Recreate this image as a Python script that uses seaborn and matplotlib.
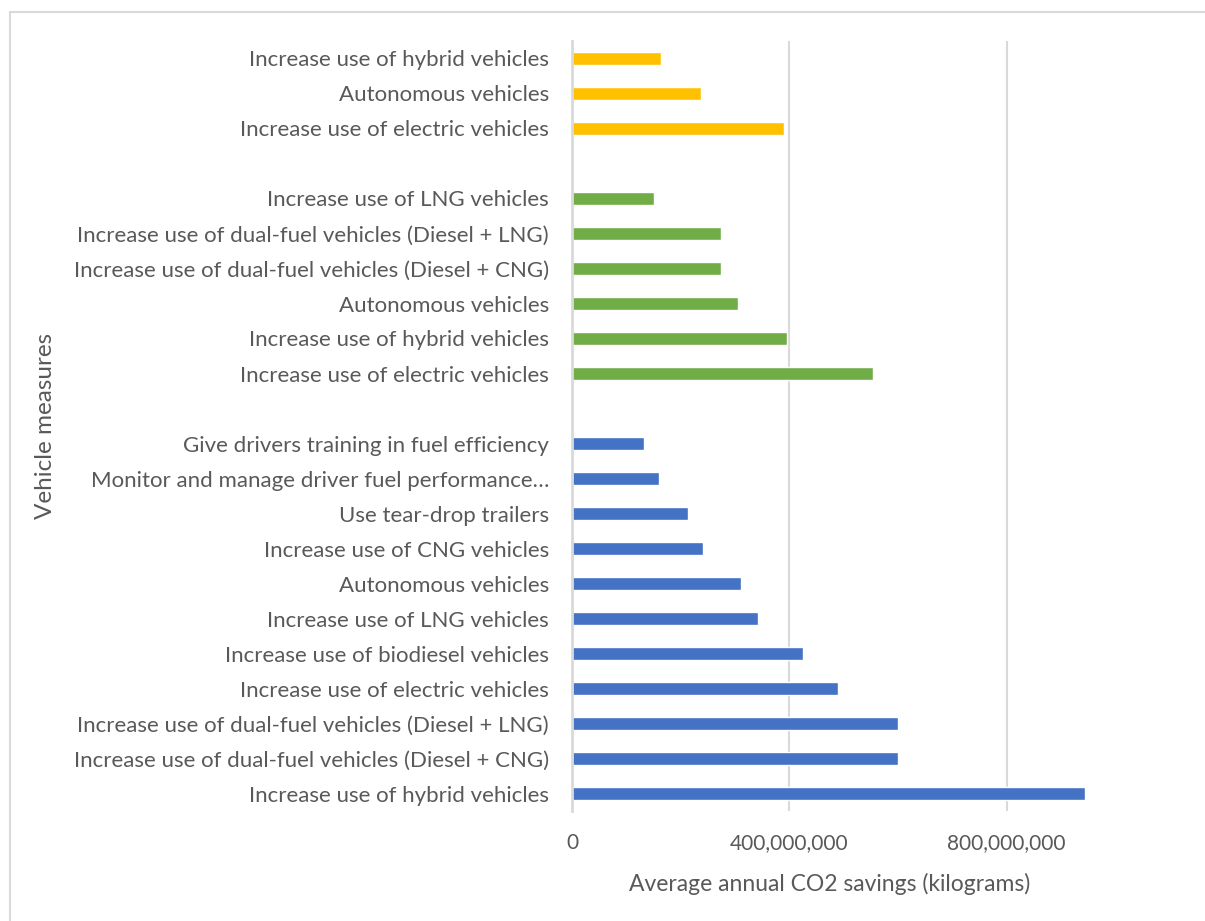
import pandas as pd
import matplotlib.pyplot as plt
import seaborn as sns
from matplotlib.patches import Rectangle
from matplotlib.ticker import FuncFormatter

# Dati (in kg), dall'alto verso il basso
yellow_labels = ["Increase use of hybrid vehicles",
                 "Autonomous vehicles",
                 "Increase use of electric vehicles"]
yellow_values = [164e6, 237e6, 390e6]

green_labels = ["Increase use of LNG vehicles",
                "Increase use of dual-fuel vehicles (Diesel + LNG)",
                "Increase use of dual-fuel vehicles (Diesel + CNG)",
                "Autonomous vehicles",
                "Increase use of hybrid vehicles",
                "Increase use of electric vehicles"]
green_values = [151e6, 275e6, 275e6, 305e6, 396e6, 554e6]

blue_labels = ["Give drivers training in fuel efficiency",
               "Monitor and manage driver fuel performance\u2026",
               "Use tear-drop trailers",
               "Increase use of CNG vehicles",
               "Autonomous vehicles",
               "Increase use of LNG vehicles",
               "Increase use of biodiesel vehicles",
               "Increase use of electric vehicles",
               "Increase use of dual-fuel vehicles (Diesel + LNG)",
               "Increase use of dual-fuel vehicles (Diesel + CNG)",
               "Increase use of hybrid vehicles"]
blue_values = [132e6, 161e6, 214e6, 241e6, 311e6, 343e6, 425e6, 489e6, 600e6, 600e6, 945e6]

colors = {"yellow": "#FFC000", "green": "#70AD47", "blue": "#4472C4"}

# Costruire la tabella con chiavi uniche per ogni riga
rows = []
order = []
tick_text = []
for grp, labels, values in [("yellow", yellow_labels, yellow_values),
                            ("green", green_labels, green_values),
                            ("blue", blue_labels, blue_values)]:
    for i, (lab, val) in enumerate(zip(labels, values)):
        key = f"{grp}_{i}"
        rows.append({"key": key, "value": val, "group": grp})
        order.append(key)
        tick_text.append(lab)
    if grp != "blue":
        order.append(f"gap_{grp}")
        tick_text.append("")
df = pd.DataFrame(rows)

sns.set_style("white")
plt.rcParams['font.family'] = ['Lato', 'DejaVu Sans']
text_col = "#595959"

fig = plt.figure(figsize=(12.05, 9.21), dpi=100)
ax = fig.add_axes([572 / 1205, 1 - 811 / 921, (1087 - 572) / 1205, (811 - 41) / 921])

sns.barplot(data=df, y="key", x="value", hue="group", order=order,
            palette=colors, dodge=False, width=0.36, orient="h",
            legend=False, saturation=1, ax=ax)

ax.set_xlim(0, 948e6)
ax.set_xticks([0, 400e6, 800e6])
ax.xaxis.set_major_formatter(FuncFormatter(lambda v, p: f"{v:,.0f}"))
ax.set_yticks(range(len(order)))
ax.set_yticklabels(tick_text)
ax.tick_params(axis="y", length=0, pad=16.5, labelsize=16, labelcolor=text_col)
ax.tick_params(axis="x", length=0, pad=16, labelsize=15, labelcolor=text_col)

ax.grid(axis="x", color="#D9D9D9", linewidth=1.5)
ax.set_axisbelow(True)
for s in ["top", "right", "bottom"]:
    ax.spines[s].set_visible(False)
ax.spines["left"].set_color("#D9D9D9")
ax.spines["left"].set_linewidth(2)

ax.set_xlabel("Average annual CO2 savings (kilograms)", fontsize=16.5, color=text_col, labelpad=14)
ax.set_ylabel("")
fig.text(46 / 1205, 1 - 426 / 921, "Vehicle measures", rotation=90, fontsize=17.5,
         color=text_col, ha="center", va="center")

# Bordo esterno del grafico
fig.patches.append(Rectangle((10 / 1205, -0.1), 1.2, 1 - 12 / 921 + 0.1,
                             transform=fig.transFigure, fill=False,
                             edgecolor="#D9D9D9", linewidth=1.5))

fig.savefig("out.png", dpi=100, facecolor="white")
